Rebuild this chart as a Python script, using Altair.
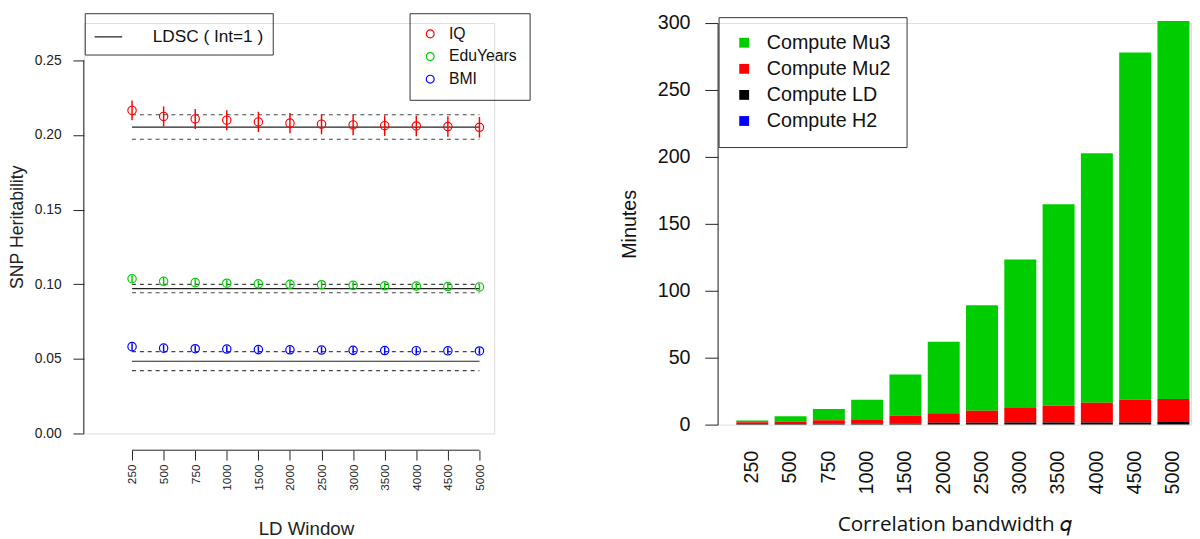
import altair as alt
import pandas as pd

# ---------------- data ----------------
windows = ["250", "500", "750", "1000", "1500", "2000", "2500", "3000",
           "3500", "4000", "4500", "5000"]

traits = ["IQ", "EduYears", "BMI"]
trait_colors = ["#FF0000", "#00CD00", "#0000FF"]

iq_h2 = [0.2165, 0.2125, 0.2108, 0.2100, 0.2088, 0.2080, 0.2073, 0.2068,
         0.2063, 0.2061, 0.2057, 0.2052]
iq_se = [0.0066, 0.0067, 0.0067, 0.0067, 0.0068, 0.0068, 0.0068, 0.0069,
         0.0069, 0.0069, 0.0069, 0.0069]
edu_h2 = [0.1037, 0.1020, 0.1011, 0.1007, 0.1003, 0.1000, 0.0997, 0.0993,
          0.0990, 0.0988, 0.0985, 0.0982]
edu_se = [0.0022] * 12
bmi_h2 = [0.0582, 0.0572, 0.0568, 0.0566, 0.0562, 0.0561, 0.0559, 0.0557,
          0.0556, 0.0555, 0.0554, 0.0553]
bmi_se = [0.0022] * 12

ldsc_label = "LDSC ( Int=1 )"
ldsc_est = [0.2053, 0.0971, 0.0484]
ldsc_lo = [0.1972, 0.0943, 0.0421]
ldsc_hi = [0.2136, 0.0999, 0.0548]

components = ["Compute Mu3", "Compute Mu2", "Compute LD", "Compute H2"]
comp_colors = ["#00CD00", "#FF0000", "#000000", "#0000FF"]
stack_rank = [3, 2, 1, 0]
mu3_min = [1.3, 4.0, 8.4, 15.0, 30.6, 53.5, 78.8, 110.9, 150.5, 186.3, 259.2, 282.3]
mu2_min = [1.2, 1.8, 2.6, 2.9, 6.1, 7.1, 8.9, 10.9, 12.6, 14.8, 17.2, 17.2]
ld_min = [0.4, 0.4, 0.5, 0.5, 0.6, 1.3, 1.3, 1.4, 1.4, 1.5, 1.5, 1.9]
h2_min = [0.1] * 12

y_left_ticks = [0.0, 0.05, 0.10, 0.15, 0.20, 0.25]
y_right_ticks = [0, 50, 100, 150, 200, 250, 300]

FONT = "Liberation Sans"
INK = "#222222"

# ---------------- tables ----------------
rows = []
for t, hs, ss in zip(traits, [iq_h2, edu_h2, bmi_h2], [iq_se, edu_se, bmi_se]):
    for w, h, s in zip(windows, hs, ss):
        rows.append({"window": w, "trait": t, "h2": h, "lo": h - s, "hi": h + s})
pts = pd.DataFrame(rows)

ldsc = pd.DataFrame({"trait": traits, "est": ldsc_est, "lo": ldsc_lo,
                     "hi": ldsc_hi, "first": windows[0], "last": windows[-1],
                     "lab": ldsc_label})
ldsc_ci = ldsc.melt(id_vars=["trait", "first", "last"],
                    value_vars=["lo", "hi"], value_name="bound")
xaxis_df = pd.DataFrame({"first": [windows[0]], "last": [windows[-1]]})
yaxis_df = pd.DataFrame({"lo": [y_left_ticks[0]], "hi": [y_left_ticks[-1]]})

brows = []
for comp, rank, vals in zip(components, stack_rank,
                            [mu3_min, mu2_min, ld_min, h2_min]):
    for w, v in zip(windows, vals):
        brows.append({"window": w, "component": comp, "minutes": v, "rank": rank})
bars_df = pd.DataFrame(brows)

# ---------------- left panel ----------------
LEFT_H = 417
xs_left = alt.Scale(type="point", domain=windows, padding=0.9975, align=0.766)
ys_left = alt.Scale(domain=[0, 0.27507], nice=False, zero=False)

xaxis_left = alt.Axis(title="LD Window", domain=False, ticks=True, tickSize=10,
                      tickColor=INK, labelAngle=-90, labelFontSize=12,
                      labelPadding=4, labelColor=INK, offset=17,
                      titleFontSize=19, titleFontWeight="normal",
                      titlePadding=30, titleX=225.7, titleColor=INK,
                      grid=False, labelFont=FONT, titleFont=FONT)
yaxis_left = alt.Axis(title="SNP Heritability", values=y_left_ticks,
                      format=".2f", domain=False, tickSize=11, labelPadding=12,
                      labelFontSize=14, titleFontSize=18,
                      titleFontWeight="normal", titlePadding=8, titleY=207,
                      tickColor=INK, labelColor=INK,
                      titleColor=INK, grid=False, labelFont=FONT,
                      titleFont=FONT)

X_left = alt.X("window:N", scale=xs_left, axis=xaxis_left)
color_traits = alt.Scale(domain=traits, range=trait_colors)

x_axis_line = alt.Chart(xaxis_df).mark_rule(color=INK, strokeWidth=1).encode(
    x=alt.X("first:N", scale=xs_left, axis=xaxis_left),
    x2="last:N",
    y=alt.value(LEFT_H + 17),
)

y_axis_line = alt.Chart(yaxis_df).mark_rule(color=INK, strokeWidth=1).encode(
    x=alt.value(0),
    y=alt.Y("lo:Q", scale=ys_left, axis=yaxis_left),
    y2="hi:Q",
)

ci_lines = alt.Chart(ldsc_ci).mark_rule(color="#444444", strokeWidth=1.2,
                                        strokeDash=[4, 4]).encode(
    x=alt.X("first:N", scale=xs_left, axis=xaxis_left),
    x2="last:N",
    y=alt.Y("bound:Q", scale=ys_left, axis=yaxis_left),
)

est_lines = alt.Chart(ldsc).mark_rule(color=INK, strokeWidth=1.2).encode(
    x=alt.X("first:N", scale=xs_left, axis=xaxis_left),
    x2="last:N",
    y=alt.Y("est:Q", scale=ys_left, axis=yaxis_left),
    strokeDash=alt.StrokeDash(
        "lab:N",
        scale=alt.Scale(domain=[ldsc_label], range=[[1, 0]]),
        legend=alt.Legend(title=None, orient="none", legendX=1, legendY=-10,
                          strokeColor="#333333", padding=9,
                          symbolType="stroke", symbolSize=784,
                          symbolStrokeWidth=1.2, symbolStrokeColor=INK,
                          labelOffset=30, labelFontSize=17.5, labelFont=FONT,
                          labelColor="#111111"),
    ),
)

err_bars = alt.Chart(pts).mark_rule(strokeWidth=1.5).encode(
    x=X_left,
    y=alt.Y("lo:Q", scale=ys_left, axis=yaxis_left),
    y2="hi:Q",
    stroke=alt.Stroke("trait:N", scale=color_traits, legend=None),
)

points = alt.Chart(pts).mark_point(shape="circle", filled=False, size=72,
                                   strokeWidth=1.2, opacity=1).encode(
    x=X_left,
    y=alt.Y("h2:Q", scale=ys_left, axis=yaxis_left),
    color=alt.Color("trait:N", scale=color_traits,
                    legend=alt.Legend(title=None, orient="none", legendX=331,
                                      legendY=-10, strokeColor="#333333",
                                      padding=13, rowPadding=7,
                                      symbolType="circle", symbolSize=64,
                                      symbolStrokeWidth=1.2, labelOffset=11,
                                      labelFontSize=16, labelFont=FONT,
                                      labelColor="#111111")),
)

left = alt.layer(y_axis_line, x_axis_line, ci_lines, est_lines, err_bars,
                 points).properties(width=417, height=LEFT_H)

# ---------------- right panel ----------------
xs_right = alt.Scale(domain=windows, paddingInner=0.165, paddingOuter=0.2648,
                     align=0.922)
ys_right = alt.Scale(domain=[0, 300], nice=False, zero=True)

right = alt.Chart(bars_df).mark_bar().encode(
    x=alt.X("window:N", scale=xs_right,
            axis=alt.Axis(title="Correlation bandwidth 𝑞", domain=False,
                          ticks=False, tickSize=0, labelAngle=-90,
                          labelFontSize=20, labelPadding=26,
                          labelColor="#111111", labelFont=FONT,
                          titleFont="Open Sans", titleFontSize=21,
                          titleFontWeight="normal", titlePadding=20,
                          titleColor="#111111")),
    y=alt.Y("minutes:Q", stack="zero", scale=ys_right,
            axis=alt.Axis(title="Minutes", values=y_right_ticks, format="d",
                          tickSize=13, labelPadding=15, labelFontSize=20,
                          titleFontSize=20, titleFontWeight="normal",
                          titlePadding=18, grid=False, domainColor=INK,
                          tickColor=INK, labelColor="#111111",
                          titleColor="#111111", labelFont=FONT,
                          titleFont=FONT)),
    color=alt.Color("component:N",
                    scale=alt.Scale(domain=components, range=comp_colors),
                    legend=alt.Legend(title=None, orient="none", legendX=1,
                                      legendY=-6, strokeColor="#333333",
                                      padding=16, rowPadding=6.5,
                                      symbolType="square", symbolSize=100,
                                      symbolStrokeWidth=0, labelOffset=13,
                                      labelFontSize=20, labelFont=FONT,
                                      labelColor="#111111")),
    order=alt.Order("rank:Q", sort="ascending"),
).properties(width=481, height=408)

chart = alt.hconcat(left, right, spacing=90).resolve_scale(
    color="independent", x="independent", y="independent"
).properties(padding=0).configure_view(stroke=None).configure(font=FONT)

chart.save("out.html", embed_options={"renderer": "svg", "actions": False})
